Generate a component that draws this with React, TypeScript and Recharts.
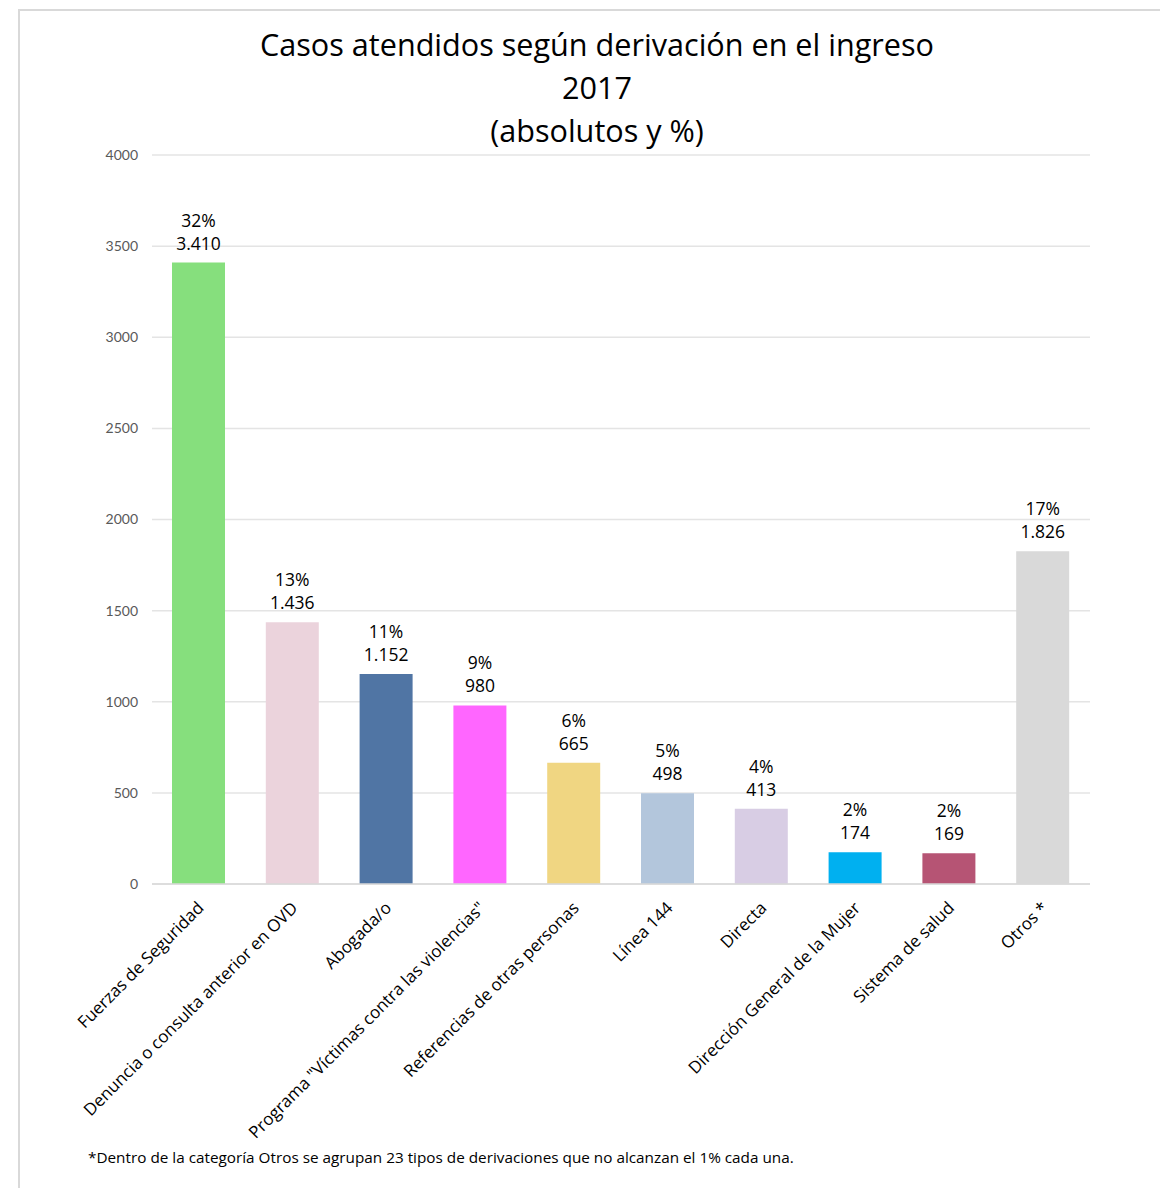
import React from 'react';
import { BarChart, Bar, XAxis, YAxis, CartesianGrid, Cell, LabelList } from 'recharts';

const categories = [
  'Fuerzas de Seguridad',
  'Denuncia o consulta anterior en OVD',
  'Abogada/o',
  'Programa "Víctimas contra las violencias"',
  'Referencias de otras personas',
  'Línea 144',
  'Directa',
  'Dirección General de la Mujer',
  'Sistema de salud',
  'Otros *',
];
const casos = [3410, 1436, 1152, 980, 665, 498, 413, 174, 169, 1826];
const casosLabels = ['3.410', '1.436', '1.152', '980', '665', '498', '413', '174', '169', '1.826'];
const porcentajes = ['32%', '13%', '11%', '9%', '6%', '5%', '4%', '2%', '2%', '17%'];
const colores = [
  '#86DF7D',
  '#EBD3DC',
  '#5075A4',
  '#FF66FF',
  '#F0D682',
  '#B3C6DC',
  '#D8CDE4',
  '#00B0F0',
  '#B65474',
  '#D9D9D9',
];
const yTicks = [0, 500, 1000, 1500, 2000, 2500, 3000, 3500, 4000];

const FONT = '"Open Sans", sans-serif';
const TICK_FONT = 'Lato, sans-serif';

const data = categories.map((name, i) => ({
  name,
  casos: casos[i],
  label: casosLabels[i],
  pct: porcentajes[i],
}));

// rotated category labels, anchored at the end like Excel does
const CategoryTick = (props: any) => {
  const { x, y, payload } = props;
  const ax = x + 6;
  const ay = y + 17;
  return (
    <text
      x={ax}
      y={ay}
      transform={`rotate(-45, ${ax}, ${ay})`}
      textAnchor="end"
      fontSize={17}
      fontFamily={FONT}
      fill="#000"
    >
      {payload.value}
    </text>
  );
};

// two-line label over each bar: percent, then absolute value
const renderValueLabel = (props: any) => {
  const { x, y, width, index } = props;
  const cx = x + width / 2;
  return (
    <g>
      <text x={cx} y={y - 36} textAnchor="middle" fontSize={17.5} fontFamily={FONT} fill="#000">
        {porcentajes[index]}
      </text>
      <text x={cx} y={y - 13} textAnchor="middle" fontSize={17.5} fontFamily={FONT} fill="#000">
        {casosLabels[index]}
      </text>
    </g>
  );
};

export default function App() {
  return (
    <div
      style={{
        position: 'absolute',
        left: 0,
        top: 0,
        width: 1160,
        height: 1188,
        background: '#fff',
        fontFamily: FONT,
        overflow: 'hidden',
      }}
    >
      {/* frame of the original chart area */}
      <div
        style={{
          position: 'absolute',
          left: 18,
          top: 9,
          width: 1160,
          height: 1200,
          borderLeft: '2px solid #D9D9D9',
          borderTop: '2px solid #D9D9D9',
        }}
      />
      <div
        style={{
          position: 'absolute',
          left: 0,
          top: 23,
          width: 1194,
          textAlign: 'center',
          fontSize: 30.6,
          lineHeight: '43px',
          color: '#000',
        }}
      >
        <div>Casos atendidos según derivación en el ingreso</div>
        <div>2017</div>
        <div>(absolutos y %)</div>
      </div>
      <div style={{ position: 'absolute', left: 0, top: 0 }}>
        <BarChart
          width={1160}
          height={1188}
          data={data}
          margin={{ top: 155, right: 70, left: 92, bottom: 104 }}
          barSize={53}
        >
          <CartesianGrid vertical={false} stroke="#E4E4E4" strokeWidth={1.5} />
          <XAxis
            dataKey="name"
            interval={0}
            height={200}
            axisLine={{ stroke: '#D9D9D9', strokeWidth: 1.5 }}
            tickLine={false}
            tick={<CategoryTick />}
          />
          <YAxis
            width={60}
            domain={[0, 4000]}
            ticks={yTicks}
            axisLine={false}
            tickLine={false}
            tickSize={0}
            tickMargin={14}
            tick={{ fontSize: 14, fill: '#595959', fontFamily: TICK_FONT }}
          />
          <Bar dataKey="casos" isAnimationActive={false}>
            {data.map((d, i) => (
              <Cell key={d.name} fill={colores[i]} />
            ))}
            <LabelList dataKey="label" content={renderValueLabel} />
          </Bar>
        </BarChart>
      </div>
      <div
        style={{
          position: 'absolute',
          left: 88,
          top: 1147,
          fontSize: 15.3,
          color: '#000',
          whiteSpace: 'nowrap',
        }}
      >
        *Dentro de la categoría Otros se agrupan 23 tipos de derivaciones que no alcanzan el 1% cada una.
      </div>
    </div>
  );
}
